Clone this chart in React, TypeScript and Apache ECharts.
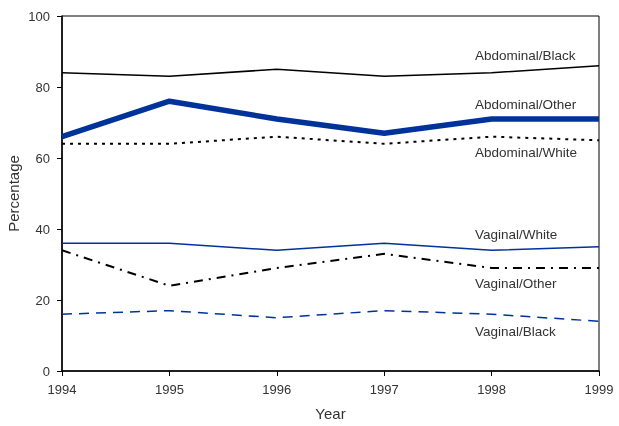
import React, { useEffect, useRef } from "react";
import * as echarts from "echarts";

const years = [1994, 1995, 1996, 1997, 1998, 1999];
const yTicks = [0, 20, 40, 60, 80, 100];
const abdominalBlack = [84, 83, 85, 83, 84, 86];
const abdominalOther = [66, 76, 71, 67, 71, 71];
const abdominalWhite = [64, 64, 66, 64, 66, 65];
const vaginalWhite = [36, 36, 34, 36, 34, 35];
const vaginalOther = [34, 24, 29, 33, 29, 29];
const vaginalBlack = [16, 17, 15, 17, 16, 14];
const seriesNames = [
  "Abdominal/Black",
  "Abdominal/Other",
  "Abdominal/White",
  "Vaginal/White",
  "Vaginal/Other",
  "Vaginal/Black",
];

const BLUE = "#003399";
const FONT = "Liberation Sans, Arial, sans-serif";

export default function App() {
  const ref = useRef<HTMLDivElement>(null);
  useEffect(() => {
    if (!ref.current) return;
    const chart = echarts.init(ref.current, undefined, { renderer: "svg" });
    const pts = (arr: number[]) => years.map((y, i) => [y, arr[i]]);
    const mk = (name: string, data: number[], color: string, width: number, type: any) => ({
      name,
      type: "line",
      data: pts(data),
      symbol: "none",
      lineStyle: { color, width, type },
      z: 3,
    });
    const labelYs = [55, 104, 152, 234, 283, 331];
    chart.setOption({
      animation: false,
      grid: {
        left: 62,
        right: 20,
        top: 16,
        bottom: 55,
        show: true,
        borderColor: "#000",
        borderWidth: 1,
        containLabel: false,
        outerBoundsMode: "none",
      },
      xAxis: {
        type: "value",
        min: years[0],
        max: years[years.length - 1],
        interval: 1,
        name: "Year",
        nameLocation: "middle",
        nameGap: 35,
        nameMoveOverlap: false,
        nameTextStyle: { fontFamily: FONT, fontSize: 15, color: "#333" },
        axisLine: { lineStyle: { color: "#000", width: 1.5 } },
        axisTick: { length: 5, lineStyle: { color: "#000" } },
        axisLabel: { fontFamily: FONT, fontSize: 13, color: "#333", margin: 12, formatter: (v: number) => String(v) },
        splitLine: { show: false },
      },
      yAxis: {
        type: "value",
        min: 0,
        max: 100,
        interval: 20,
        name: "Percentage",
        nameLocation: "middle",
        nameGap: 41,
        nameMoveOverlap: false,
        nameTextStyle: { fontFamily: FONT, fontSize: 15, color: "#333" },
        axisLine: { show: true, lineStyle: { color: "#000", width: 1.5 } },
        axisTick: { show: true, length: 5, lineStyle: { color: "#000" } },
        axisLabel: {
          fontFamily: FONT,
          fontSize: 13,
          color: "#333",
          margin: 12,
          formatter: (v: number) => (yTicks.includes(v) ? String(v) : ""),
        },
        splitLine: { show: false },
      },
      series: [
        mk(seriesNames[0], abdominalBlack, "#000", 1.5, "solid"),
        mk(seriesNames[1], abdominalOther, BLUE, 5.5, "solid"),
        mk(seriesNames[2], abdominalWhite, "#000", 2, [3, 5]),
        mk(seriesNames[3], vaginalWhite, BLUE, 1.5, "solid"),
        mk(seriesNames[4], vaginalOther, "#000", 2, [9, 6, 2, 6]),
        mk(seriesNames[5], vaginalBlack, BLUE, 1.5, [10, 7]),
      ],
      graphic: seriesNames.map((n, i) => ({
        type: "text",
        x: 475,
        y: labelYs[i],
        style: { text: n, fontFamily: FONT, fontSize: 13.5, fill: "#333", verticalAlign: "middle" },
      })),
    });
    return () => chart.dispose();
  }, []);
  return <div ref={ref} style={{ position: "fixed", left: 0, top: 0, width: 619, height: 426 }} />;
}
